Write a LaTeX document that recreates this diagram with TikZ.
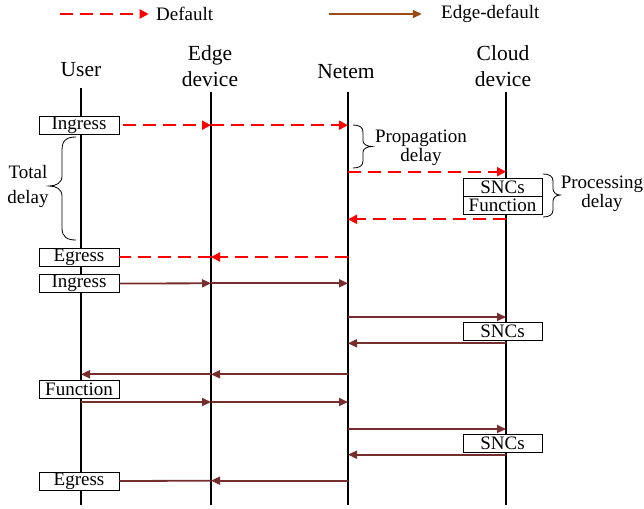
\documentclass[tikz,border=0pt]{standalone}
\usepackage{fontspec}
\setmainfont{Liberation Serif}
\usetikzlibrary{arrows.meta}
\definecolor{dflt}{RGB}{255,0,0}
\definecolor{edgelegend}{RGB}{156,74,20}
\definecolor{edgeline}{RGB}{118,45,45}
\begin{document}
\begin{tikzpicture}[x=1pt,y=-1pt,
  every node/.style={font=\fontsize{19}{19}\selectfont, inner sep=0pt},
  life/.style={draw=black, line width=1.5pt},
  hdr/.style={align=center, font=\fontsize{21.5}{22}\selectfont},
  box/.style={draw=black, line width=0.9pt, fill=white, minimum width=80pt, minimum height=18pt},
  sbox/.style={draw=black, line width=0.9pt, fill=white, minimum width=79pt, minimum height=18pt},
  redmsg/.style={draw=dflt, line width=2pt, dash pattern=on 13pt off 7pt},
  redarr/.style={redmsg, -{Triangle[length=9pt,width=9pt]}},
  brmsg/.style={draw=edgeline, line width=1.8pt},
  brarr/.style={brmsg, -{Triangle[length=9pt,width=8pt]}},
  brc/.style={draw=black, line width=0.8pt}
]
\useasboundingbox (0,0) rectangle (644,508);

% legend
\coordinate (lgA) at (59.5,14); \coordinate (lgB) at (148.7,14);
\draw[redarr] (lgA) -- (lgB);
\node[anchor=west] (lgDefault) at (156,14) {Default};
\coordinate (lgC) at (328.5,14); \coordinate (lgD) at (421.8,14);
\draw[draw=edgelegend, line width=1.8pt, -{Triangle[length=9pt,width=8pt]}] (lgC) -- (lgD);
\node[anchor=west] (lgEdge) at (441,14) {Edge-default};

% headers
\node[hdr] (hUser) at (81,70) {User};
\node[hdr] (hEdge) at (210,66) {Edge\\[4pt]device};
\node[hdr] (hNetem) at (346,72) {Netem};
\node[hdr] (hCloud) at (503,66) {Cloud\\[4pt]device};

% lifelines
\coordinate (Ut) at (81,88);   \coordinate (Ub) at (81,505);
\coordinate (Et) at (211,92);  \coordinate (Eb) at (211,505);
\coordinate (Nt) at (348,92);  \coordinate (Nb) at (348,505);
\coordinate (Ct) at (506,92);  \coordinate (Cb) at (506,505);
\draw[life] (Ut) -- (Ub);
\draw[life] (Et) -- (Eb);
\draw[life] (Nt) -- (Nb);
\draw[life] (Ct) -- (Cb);

% ---------- Default (red dashed) ----------
\node[box] (ing1) at (79,125.2) {Ingress};
\coordinate (ing1s) at (123,125.2);
\coordinate (e1) at (211,125.2); \coordinate (n1) at (348,125.2);
\draw[redarr] (ing1s) -- (e1);
\draw[redarr] (e1) -- (n1);

\coordinate (n2) at (348,171.7); \coordinate (c2) at (506,171.7);
\draw[redarr] (n2) -- (c2);

\node[sbox] (sncs1) at (502.5,187.5) {SNCs};
\node[sbox] (func1) at (502.5,205.5) {Function};

\coordinate (c3) at (506,219.3); \coordinate (n3) at (348,219.3);
\draw[redarr] (c3) -- (n3);

\node[box] (egr1) at (79,257) {Egress};
\coordinate (n4) at (348,257); \coordinate (e4) at (211,257);
\draw[redarr] (n4) -- (e4);
\draw[redmsg] (e4) -- (egr1.east);

% braces
\draw[brc] (76,137) .. controls (67,137) and (62,140) .. (62,150) -- (62,176)
  .. controls (62,183) and (56,186) .. (49,186)
  .. controls (56,186) and (62,189) .. (62,196) -- (62,228)
  .. controls (62,237) and (67,240) .. (76,240);
\node[align=center] (totdelay) at (28,186) {Total\\[6pt]delay};

\draw[brc] (353,125) .. controls (359,125) and (363,127) .. (363,132) -- (363,141)
  .. controls (363,144) and (367,146.5) .. (372,146.5)
  .. controls (367,146.5) and (363,149) .. (363,152) -- (363,161)
  .. controls (363,166) and (359,168) .. (353,168);
\node[align=center] (propdelay) at (421,147.5) {Propagation\\delay};

\draw[brc] (543,174) .. controls (549,174) and (553,176) .. (553,181) -- (553,189)
  .. controls (553,192) and (556,195) .. (560,195)
  .. controls (556,195) and (553,198) .. (553,201) -- (553,210)
  .. controls (553,215) and (549,217) .. (543,217);
\node[align=center] (procdelay) at (602,193.5) {Processing\\delay};

% ---------- Edge-default (brown solid) ----------
\node[box] (ing2) at (79,283.5) {Ingress};
\coordinate (e5) at (211,283.3); \coordinate (n5) at (348,283.3);
\draw[brarr] (ing2.east) -- (e5);
\draw[brarr] (e5) -- (n5);

\coordinate (n6) at (348,317); \coordinate (c6) at (506,317);
\draw[brarr] (n6) -- (c6);
\node[sbox] (sncs2) at (502.5,331) {SNCs};
\coordinate (c7) at (506,343.3); \coordinate (n7) at (348,343.3);
\draw[brarr] (c7) -- (n7);

\coordinate (n8) at (348,374.3); \coordinate (e8) at (211,374.3); \coordinate (u8) at (81,374.3);
\draw[brarr] (n8) -- (e8);
\draw[brarr] (e8) -- (u8);

\node[box] (func2) at (79,389.3) {Function};
\coordinate (u9) at (81,402); \coordinate (e9) at (211,402); \coordinate (n9) at (348,402);
\draw[brarr] (u9) -- (e9);
\draw[brarr] (e9) -- (n9);

\coordinate (n10) at (348,429); \coordinate (c10) at (506,429);
\draw[brarr] (n10) -- (c10);
\node[sbox] (sncs3) at (502.5,443) {SNCs};
\coordinate (c11) at (506,454.7); \coordinate (n11) at (348,454.7);
\draw[brarr] (c11) -- (n11);

\node[box] (egr2) at (79,481) {Egress};
\coordinate (n12) at (348,480.7); \coordinate (e12) at (211,480.7);
\draw[brarr] (n12) -- (e12);
\draw[brmsg] (e12) -- (egr2.east);
\end{tikzpicture}
\end{document}
